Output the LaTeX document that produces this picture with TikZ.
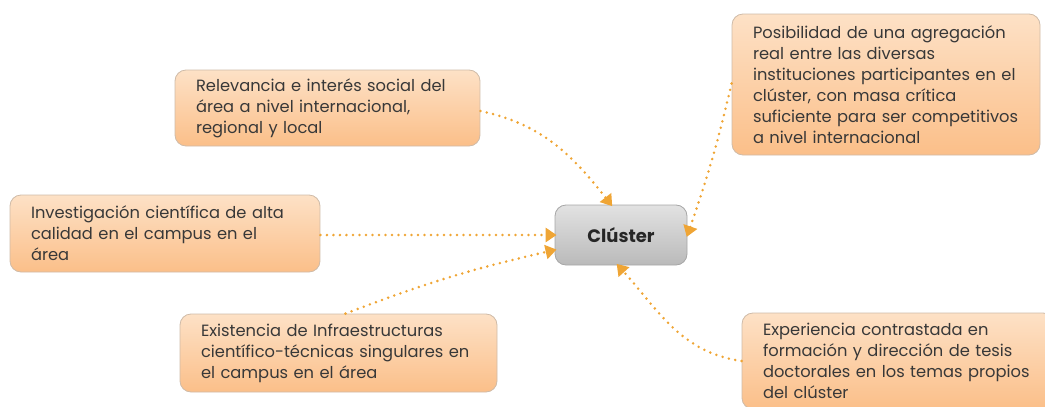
\documentclass[tikz,border=0pt]{standalone}
\usepackage{fontspec}
\setmainfont{Poppins}
\usetikzlibrary{arrows.meta}
\definecolor{boxtop}{HTML}{FDE1C6}
\definecolor{boxbot}{HTML}{FBBF89}
\definecolor{boxline}{HTML}{CFBBA8}
\definecolor{graytop}{HTML}{E2E2E2}
\definecolor{graybot}{HTML}{BABABA}
\definecolor{grayline}{HTML}{A6A6A6}
\definecolor{conncol}{HTML}{EFA535}
\definecolor{txt}{HTML}{383838}
\tikzset{
  idea/.style={draw=boxline, line width=0.8pt, rounded corners=11pt,
    top color=boxtop, bottom color=boxbot, align=left, text=txt,
    font=\fontsize{16.3}{21}\selectfont, inner xsep=21pt, inner ysep=3pt, anchor=center},
  hub/.style={draw=grayline, line width=0.8pt, rounded corners=11pt,
    top color=graytop, bottom color=graybot, text=black!85,
    font=\fontsize{18}{20}\selectfont\bfseries, minimum width=132pt, minimum height=60pt},
  conn/.style={draw=conncol, line width=2.8pt, line cap=round,
    dash pattern=on 0pt off 6.5pt, -{Triangle[length=11pt,width=14pt,fill=conncol]}, shorten >=-2pt}
}
\begin{document}
\begin{tikzpicture}[x=1pt,y=-1pt]
\useasboundingbox (0,0) rectangle (1045,407);
\clip (0,0) rectangle (1045,407);
\node[idea, minimum width=305pt, minimum height=76pt, text width=263pt] (A) at (327.5,108)
  {Relevancia e interés social del\\área a nivel internacional,\\regional y local};
\node[idea, minimum width=310pt, minimum height=77pt, text width=268pt] (B) at (165,233.5)
  {Investigación científica de alta\\calidad en el campus en el\\área};
\node[idea, minimum width=317pt, minimum height=78pt, text width=275pt] (C) at (338.5,353)
  {Existencia de Infraestructuras\\científico-técnicas singulares en\\el campus en el área};
\node[idea, minimum width=308pt, minimum height=141pt, text width=266pt] (D) at (886,84.5)
  {Posibilidad de una agregación\\real entre las diversas\\instituciones participantes en el\\clúster, con masa crítica\\suficiente para ser competitivos\\a nivel internacional};
\node[idea, minimum width=312pt, minimum height=96pt, text width=270pt] (E) at (898,361)
  {Experiencia contrastada en\\formación y dirección de tesis\\doctorales en los temas propios\\del clúster};
\node[hub] (K) at (621,235) {Clúster};
\draw[conn] ([yshift=-3pt]A.east) to[out=-12,in=128] ([xshift=-10pt]K.north);
\draw[conn] ([yshift=-1.5pt]B.east) -- (K.west);
\draw[conn] ([xshift=7pt]C.north) to[bend left=4] ([yshift=-15pt]K.west);
\draw[conn] ([yshift=1pt]D.west) to[bend left=3] (K.east);
\draw[conn] (E.west) to[out=172,in=-48] ([xshift=-3pt]K.south);
\end{tikzpicture}
\end{document}
